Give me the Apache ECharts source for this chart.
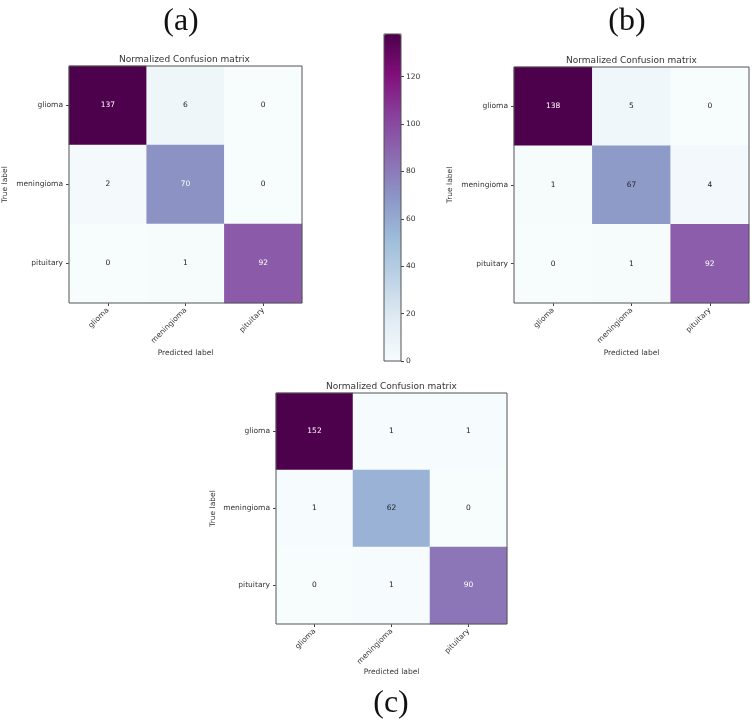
<!DOCTYPE html>
<html>
  <head>
    <meta charset="utf-8" />
    <title>Confusion matrices</title>
    <script src="https://cdn.jsdelivr.net/npm/echarts@6/dist/echarts.min.js"></script>
  </head>
  <body style="margin: 0; background: #fff">
    <div id="main" style="width: 753px; height: 727px"></div>
    <script type="text/javascript">
      var myChart = echarts.init(document.getElementById("main"), null, {
        renderer: "canvas",
      });

      // class names, rows = true label, columns = predicted label
      var classes = ["glioma", "meningioma", "pituitary"];
      var cmA = [
        [137, 6, 0],
        [2, 70, 0],
        [0, 1, 92],
      ];
      var cmB = [
        [138, 5, 0],
        [1, 67, 4],
        [0, 1, 92],
      ];
      var cmC = [
        [152, 1, 1],
        [1, 62, 0],
        [0, 1, 90],
      ];
      var colorbarMax = 138;
      var colorbarStep = 20;

      // matplotlib BuPu
      var bupu = ["#f7fcfd", "#e0ecf4", "#bfd3e6", "#9ebcda", "#8c96c6", "#8c6bb1", "#88419d", "#810f7c", "#4d004b"];
      var font = "DejaVu Sans";
      var small = 7.5;

      function maxOf(cm) {
        var m = 0;
        cm.forEach(function (row) { row.forEach(function (v) { if (v > m) m = v; }); });
        return m;
      }

      function toData(cm) {
        var thresh = maxOf(cm) / 2;
        var out = [];
        cm.forEach(function (row, i) {
          row.forEach(function (v, j) {
            out.push({ value: [j, i, v], label: { color: v > thresh ? "#ffffff" : "#222222" } });
          });
        });
        return out;
      }

      var mats = [cmA, cmB, cmC];
      var grids = [
        { left: 67, top: 66, width: 235, height: 237 },
        { left: 514, top: 67, width: 235, height: 236 },
        { left: 276, top: 393, width: 231, height: 231 },
      ];
      var yNameGap = [60, 60, 59];
      var xNameGap = [46, 46, 44];

      var gridOpt = [], xAxes = [], yAxes = [], series = [], visualMaps = [];
      grids.forEach(function (g, k) {
        gridOpt.push(Object.assign({ show: true, z: 5, backgroundColor: "transparent", borderColor: "#555", borderWidth: 1 }, g));
        xAxes.push({
          type: "category", gridIndex: k, data: classes, position: "bottom",
          axisLine: { show: false }, splitLine: { show: false },
          axisTick: { show: true, alignWithLabel: true, length: 3, lineStyle: { color: "#444" } },
          axisLabel: { rotate: 45, margin: 6, fontSize: small, fontFamily: font, color: "#333" },
          name: "Predicted label", nameLocation: "middle", nameGap: xNameGap[k], nameMoveOverlap: false,
          nameTextStyle: { fontSize: small, fontFamily: font, color: "#333" },
        });
        yAxes.push({
          type: "category", gridIndex: k, data: classes, inverse: true,
          axisLine: { show: false }, splitLine: { show: false },
          axisTick: { show: true, alignWithLabel: true, length: 3, lineStyle: { color: "#444" } },
          axisLabel: { margin: 6, fontSize: small, fontFamily: font, color: "#333" },
          name: "True label", nameLocation: "middle", nameRotate: 90, nameGap: yNameGap[k], nameMoveOverlap: false,
          nameTextStyle: { fontSize: small, fontFamily: font, color: "#333" },
        });
        series.push({
          type: "heatmap", xAxisIndex: k, yAxisIndex: k,
          data: toData(mats[k]),
          label: { show: true, fontSize: small, fontFamily: font, formatter: function (p) { return p.value[2]; } },
          emphasis: { disabled: true },
        });
        visualMaps.push({
          type: "continuous", seriesIndex: k, dimension: 2, min: 0, max: maxOf(mats[k]),
          inRange: { color: bupu }, show: false,
        });
      });

      // colorbar (shown for matrix b)
      visualMaps[1] = {
        type: "continuous", seriesIndex: 1, dimension: 2, min: 0, max: colorbarMax,
        inRange: { color: bupu }, show: true, calculable: false,
        left: 384, top: 34, padding: 0, itemWidth: 17, itemHeight: 327,
      };
      gridOpt.push({ show: true, z: 5, backgroundColor: "transparent", borderColor: "#555", borderWidth: 1, left: 384, top: 34, width: 17, height: 327 });
      xAxes.push({ type: "category", gridIndex: 3, data: [""], show: false });
      yAxes.push({
        type: "value", gridIndex: 3, position: "right", min: 0, max: colorbarMax, interval: colorbarStep,
        axisLine: { show: false }, splitLine: { show: false },
        axisTick: { show: true, length: 3, lineStyle: { color: "#444" } },
        axisLabel: { margin: 5, fontSize: small, fontFamily: font, color: "#333", showMaxLabel: false },
      });

      var headTitle = "Normalized Confusion matrix";
      var panelTexts = [
        { text: "(a)", x: 181, y: 22 },
        { text: "(b)", x: 627, y: 22 },
        { text: "(c)", x: 391, y: 704 },
      ];
      var graphics = [];
      panelTexts.forEach(function (p) {
        graphics.push({ type: "text", x: p.x, y: p.y, style: { text: p.text, fill: "#111", font: "32px 'Liberation Serif'", textAlign: "center", textVerticalAlign: "middle" } });
      });
      grids.forEach(function (g) {
        graphics.push({ type: "text", x: g.left + g.width / 2, y: g.top - 6, style: { text: headTitle, fill: "#333", font: "9px 'DejaVu Sans'", textAlign: "center", textVerticalAlign: "middle" } });
      });

      var option = {
        animation: false,
        backgroundColor: "#ffffff",
        grid: gridOpt,
        xAxis: xAxes,
        yAxis: yAxes,
        visualMap: visualMaps,
        series: series,
        graphic: graphics,
      };
      myChart.setOption(option);
    </script>
  </body>
</html>
